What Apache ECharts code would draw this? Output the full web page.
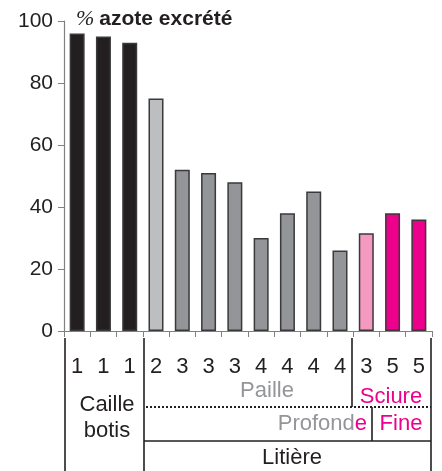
<!DOCTYPE html>
<html>
<head>
<meta charset="utf-8">
<script src="https://cdn.jsdelivr.net/npm/echarts@6/dist/echarts.min.js"></script>
<style>
html,body{margin:0;padding:0;background:#fff;}
#c{width:442px;height:471px;}
</style>
</head>
<body>
<div id="c"></div>
<script>
// Data
const categories = ['1','1','1','2','3','3','3','4','4','4','4','3','5','5'];
const values = [96, 95, 93, 75, 52, 51, 48, 30, 38, 45, 26, 31.5, 38, 36];
const groups = ['caille','caille','caille','paille2','paille','paille','paille','paille','paille','paille','paille','sciure3','sciure','sciure'];
const yTicks = [0, 20, 40, 60, 80, 100];

const colorMap = {
  caille: '#231f20',
  paille2: '#bcbec0',
  paille: '#939598',
  sciure3: '#f49ac1',
  sciure: '#ec008c'
};

const FONT = '"Liberation Sans", Arial, Helvetica, sans-serif';
const INK = '#231f20';

const chart = echarts.init(document.getElementById('c'), null, {renderer: 'canvas'});

function vline(x, y1, y2) {
  return {type: 'line', shape: {x1: x, y1: y1, x2: x, y2: y2},
    style: {stroke: INK, lineWidth: 1.6}};
}
function hline(x1, x2, y, dash) {
  return {type: 'line', shape: {x1: x1, y1: y, x2: x2, y2: y},
    style: {stroke: INK, lineWidth: dash ? 2 : 1.6, lineDash: dash || null}};
}
function txt(x, y, s, color, align) {
  return {type: 'text', x: x, y: y,
    style: {text: s, fill: color, font: '22px ' + FONT, align: align || 'center', verticalAlign: 'middle'}};
}

const option = {
  animation: false,
  backgroundColor: '#fff',
  title: {
    left: 71, top: 3,
    text: '{p|%} {b|azote excrété}',
    textStyle: {
      fontWeight: 'normal',
      rich: {
        p: {fontFamily: '"Liberation Serif", "Times New Roman", serif', fontStyle: 'italic', fontWeight: 'normal', fontSize: 22, color: INK},
        b: {fontFamily: FONT, fontWeight: 'bold', fontSize: 21, color: INK}
      }
    }
  },
  grid: {left: 64, right: 10, top: 21, bottom: 140, containLabel: false},
  xAxis: {
    type: 'category',
    data: categories,
    axisLine: {show: true, lineStyle: {color: '#808080', width: 1.2}},
    axisTick: {show: true, length: 6, lineStyle: {color: '#808080', width: 1}},
    axisLabel: {margin: 25, fontSize: 22, fontFamily: FONT, color: INK, interval: 0}
  },
  yAxis: {
    type: 'value',
    min: yTicks[0], max: yTicks[yTicks.length - 1], interval: 20,
    splitLine: {show: false},
    axisLine: {show: true, lineStyle: {color: '#808080', width: 1.2}},
    axisTick: {show: true, length: 6, lineStyle: {color: '#808080', width: 1}},
    axisLabel: {margin: 11, fontSize: 21, fontFamily: FONT, color: INK}
  },
  series: [{
    type: 'bar',
    data: values.map((v, i) => ({
      value: v,
      itemStyle: {color: colorMap[groups[i]]}
    })),
    barWidth: 15,
    itemStyle: {borderColor: '#3a3a3a', borderWidth: 1.5}
  }],
  graphic: [
    vline(65, 338, 471),
    vline(144, 338, 471),
    vline(352, 338, 407),
    vline(372, 407, 441),
    vline(431, 338, 471),
    hline(146, 431, 407, [2, 2]),
    hline(144, 431, 441),
    txt(267, 391, 'Paille', '#939598'),
    txt(391, 397, 'Sciure', '#ec008c'),
    {type: 'text', x: 367, y: 424,
      style: {text: '{g|Profond}{m|e}', align: 'right', verticalAlign: 'middle',
        rich: {g: {fill: '#939598', font: '22px ' + FONT}, m: {fill: '#ec008c', font: '22px ' + FONT}}}},
    txt(401, 424, 'Fine', '#ec008c'),
    txt(107, 405, 'Caille', INK),
    txt(107, 431, 'botis', INK),
    txt(292, 458, 'Litière', INK)
  ]
};
chart.setOption(option);
</script>
</body>
</html>
